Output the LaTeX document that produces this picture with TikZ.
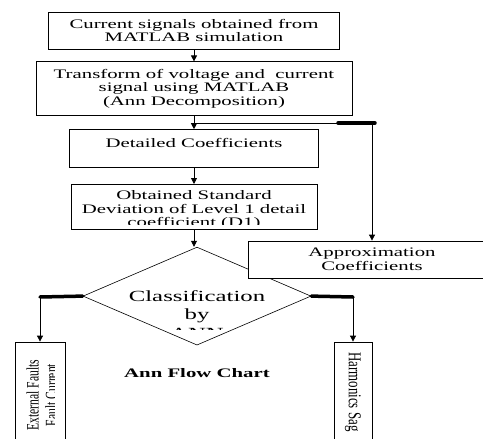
\documentclass[tikz,border=0pt]{standalone}
\usepackage{fontspec}
\setmainfont[FakeStretch=1.6]{Liberation Serif}
\newfontfamily\rotfont{Liberation Serif}
\usetikzlibrary{arrows.meta,shapes,positioning}

\begin{document}
\begin{tikzpicture}[x=1pt,y=-1pt,
    box/.style={draw, line width=0.8pt, fill=white, align=center, inner sep=0pt,
      font=\fontsize{13}{13.8}\selectfont},
    inside/.style={rectangle, draw=none, fill=none, anchor=center, inner sep=0pt, align=center},
    arr/.style={-{Triangle[length=6pt,width=6pt]}, line width=0.8pt},
    blob/.style={line width=3.5pt, line cap=round}]
          \useasboundingbox (0,0) rectangle (483,439);
          \node[box, minimum width=291pt, minimum height=37pt] at (194,30.5) (src) {Current signals obtained from\\MATLAB simulation};
          \node[box, minimum width=316pt, minimum height=54pt, below=12pt of src] (trans) {Transform of voltage and~ current\\signal using MATLAB\\(Ann Decomposition)};
          \node[box, minimum width=249pt, minimum height=38pt, text depth=12pt, below=13pt of trans] (detail) {Detailed Coefficients};
          \node[box, minimum width=246pt, minimum height=45pt, below=16pt of detail,
            path picture={
              \clip (path picture bounding box.north west) rectangle ([yshift=5pt]path picture bounding box.south east);
              \node[inside, font=\fontsize{13}{13.6}\selectfont] at ([yshift=-3pt]path picture bounding box.center)
                {Obtained Standard\\Deviation of Level 1 detail\\coefficient (D1)};
            }] (stdev) {};
          \node[diamond, draw, line width=0.6pt, inner sep=0pt, minimum width=228pt, minimum height=98pt,
            below=17pt of stdev, xshift=3pt,
            path picture={
              \clip (path picture bounding box.north west) rectangle ([yshift=15pt]path picture bounding box.south east);
              \node[inside, font=\fontsize{15.5}{18.5}\selectfont] at ([yshift=-18pt]path picture bounding box.center)
                {Classification\\by\\ANN};
            }] (cls) {};
          \node[box, minimum width=248pt, minimum height=37pt] at (372,259.5) (apx) {Approximation\\Coefficients};
          \node[box, minimum width=50pt, minimum height=100pt, at={(40,392)},
            path picture={
              \clip (path picture bounding box.north west) rectangle ([xshift=-11pt]path picture bounding box.south east);
              \node[inside, rotate=90, yscale=1.5, font=\rotfont\fontsize{11.6}{12.5}\selectfont] at ([xshift=2pt,yshift=-3pt]path picture bounding box.center)
                {External Faults\\Fault Current};
            }] (fault) {};
          \node[box, minimum width=38pt, minimum height=100pt] at (353,392) (hsag) {\rotatebox{-90}{\scalebox{1}[1.4]{\rotfont\fontsize{12.9}{14}\selectfont Harmonics Sag}}};
          \node[font=\bfseries\fontsize{13}{15}\selectfont] at (197,373) (title) {Ann Flow Chart};
          \coordinate (split) at (194,123);
          \coordinate (blobA) at (338,123);
          \coordinate (lbend) at (40,297);
          \coordinate (rbend) at (353,297);
          \draw[arr] (src) -- (trans);
          \draw[arr] (trans) -- (detail);
          \draw[arr] (detail) -- (stdev);
          \draw[arr] (stdev.south) -- (stdev.south |- cls.north);
          \draw[arr] (split) -| (apx.north);
          \draw[blob] (blobA) -- ([xshift=3pt]apx.north |- split);
          \draw[blob] (cls.west) -- (lbend);
          \draw[arr] (lbend) -- (fault.north);
          \draw[blob] (cls.east) -- (rbend);
          \draw[arr] (rbend) -- (hsag.north);
        \end{tikzpicture}
\end{document}
